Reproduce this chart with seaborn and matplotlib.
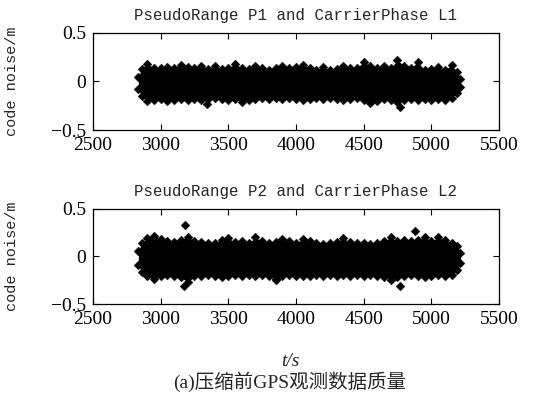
import numpy as np
import pandas as pd
import matplotlib
matplotlib.use("Agg")
import matplotlib.pyplot as plt
import seaborn as sns

# ---- data (envelope of the noise cloud + isolated points) ----
t = [2835, 2860, 2900, 2950, 3000, 3050, 3100, 3150, 3200, 3250, 3300, 3350, 3400,
     3450, 3500, 3550, 3600, 3650, 3700, 3750, 3800, 3850, 3900, 3950, 4000, 4050,
     4100, 4150, 4200, 4250, 4300, 4350, 4400, 4450, 4500, 4550, 4600, 4650, 4700,
     4750, 4800, 4850, 4900, 4950, 5000, 5050, 5100, 5150, 5190, 5215]

p1_upper = [0.05, 0.13, 0.18, 0.14, 0.14, 0.15, 0.14, 0.17, 0.15, 0.14, 0.16, 0.13, 0.16,
            0.13, 0.14, 0.18, 0.14, 0.13, 0.16, 0.14, 0.12, 0.14, 0.16, 0.14, 0.15, 0.17,
            0.14, 0.12, 0.15, 0.12, 0.13, 0.16, 0.14, 0.14, 0.20, 0.16, 0.14, 0.16, 0.14,
            0.22, 0.16, 0.14, 0.20, 0.12, 0.13, 0.15, 0.12, 0.17, 0.10, 0.03]
p1_lower = [-0.08, -0.15, -0.20, -0.19, -0.18, -0.20, -0.19, -0.18, -0.19, -0.18, -0.19, -0.18, -0.17,
            -0.18, -0.19, -0.18, -0.21, -0.19, -0.18, -0.17, -0.18, -0.17, -0.18, -0.17, -0.18, -0.19,
            -0.18, -0.17, -0.18, -0.17, -0.18, -0.19, -0.18, -0.17, -0.19, -0.22, -0.20, -0.18, -0.19,
            -0.21, -0.19, -0.18, -0.19, -0.18, -0.19, -0.18, -0.19, -0.17, -0.12, -0.06]
p1_out_t = [3340, 4770]
p1_out_v = [-0.23, -0.26]

p2_upper = [0.06, 0.14, 0.19, 0.22, 0.18, 0.16, 0.15, 0.17, 0.21, 0.16, 0.15, 0.14, 0.14,
            0.17, 0.19, 0.15, 0.16, 0.14, 0.20, 0.16, 0.14, 0.15, 0.18, 0.16, 0.14, 0.18,
            0.16, 0.14, 0.13, 0.14, 0.15, 0.19, 0.15, 0.14, 0.14, 0.13, 0.14, 0.16, 0.20,
            0.16, 0.17, 0.16, 0.17, 0.20, 0.16, 0.20, 0.17, 0.14, 0.11, 0.04]
p2_lower = [-0.09, -0.16, -0.21, -0.24, -0.21, -0.20, -0.21, -0.22, -0.27, -0.21, -0.21, -0.20, -0.21,
            -0.22, -0.21, -0.20, -0.21, -0.20, -0.21, -0.20, -0.21, -0.24, -0.21, -0.20, -0.21, -0.21,
            -0.21, -0.20, -0.21, -0.20, -0.21, -0.20, -0.21, -0.20, -0.21, -0.20, -0.21, -0.22, -0.25,
            -0.22, -0.21, -0.20, -0.21, -0.22, -0.21, -0.20, -0.21, -0.20, -0.14, -0.07]
p2_out_t = [3180, 3175, 4880, 4770, 3850]
p2_out_v = [0.33, -0.31, 0.27, -0.31, -0.25]

titles = ["PseudoRange P1 and CarrierPhase L1", "PseudoRange P2 and CarrierPhase L2"]
xticks = [2500, 3000, 3500, 4000, 4500, 5000, 5500]
yticks = [-0.5, 0, 0.5]
ylabel = "code noise/m"
xlabel = "t/s"
caption = "(a)压缩前GPS观测数据质量"

# ---- style ----
sns.set_style("ticks")
plt.rcParams["font.family"] = ["Liberation Serif", "Noto Sans CJK SC"]
plt.rcParams["axes.unicode_minus"] = True

fig = plt.figure(figsize=(5.42, 3.96), dpi=100)
ax1 = fig.add_axes([0.1716, 0.6717, 0.749, 0.245])
ax2 = fig.add_axes([0.1716, 0.2323, 0.749, 0.240])

panels = [(ax1, p1_upper, p1_lower, p1_out_t, p1_out_v),
          (ax2, p2_upper, p2_lower, p2_out_t, p2_out_v)]

for i, (ax, up, lo, ot, ov) in enumerate(panels):
    ax.fill_between(t, lo, up, color="black", linewidth=0, zorder=2)
    df = pd.DataFrame({"t": list(t) * 2 + list(ot),
                       "v": list(up) + list(lo) + list(ov)})
    sns.scatterplot(data=df, x="t", y="v", ax=ax, marker="D", s=20,
                    color="black", edgecolor="black", linewidth=0.3, zorder=3, legend=False)
    ax.set_xlim(2500, 5500)
    ax.set_ylim(-0.5, 0.5)
    ax.set_xticks(xticks)
    ax.set_yticks(yticks)
    ax.set_yticklabels(["\u22120.5", "0", "0.5"])
    ax.tick_params(direction="in", top=True, right=True, labelsize=14,
                   length=4, width=0.8, colors="black", pad=5)
    for s in ax.spines.values():
        s.set_linewidth(0.9)
        s.set_color("black")
    ax.set_xlabel("")
    ax.set_ylabel(ylabel, family=["Liberation Mono"], fontsize=11)
    ax.yaxis.set_label_coords(-0.183, 0.5)
    ax.set_title(titles[i], family=["Liberation Mono"], fontsize=11.3, pad=9)

fig.text(0.535, 0.088, xlabel, ha="center", va="center", fontsize=14, style="italic",
         family=["Liberation Serif"])
fig.text(0.535, 0.035, caption, ha="center", va="center", fontsize=14,
         family=["Liberation Serif", "Noto Sans CJK SC"])

fig.savefig("out.png", dpi=100)
